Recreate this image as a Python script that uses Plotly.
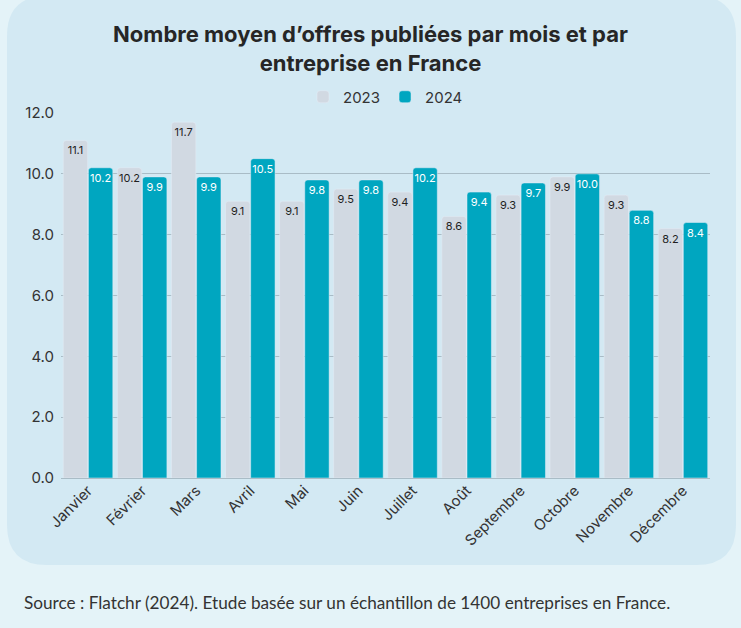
import plotly.graph_objects as go

# Data
mois = ["Janvier", "Février", "Mars", "Avril", "Mai", "Juin", "Juillet",
        "Août", "Septembre", "Octobre", "Novembre", "Décembre"]
offres_2023 = [11.1, 10.2, 11.7, 9.1, 9.1, 9.5, 9.4, 8.6, 9.3, 9.9, 9.3, 8.2]
offres_2024 = [10.2, 9.9, 9.9, 10.5, 9.8, 9.8, 10.2, 9.4, 9.7, 10.0, 8.8, 8.4]
y_ticks = [0, 2, 4, 6, 8, 10, 12]

W, H = 741, 628
ML, MR, MT, MB = 61, 31, 113, 150
PW, PH = W - ML - MR, H - MT - MB


def px_to_paper(x, y):
    return (x - ML) / PW, (H - MB - y) / PH


def rounded_panel(x0, y0, x1, y1, r):
    pts = [
        ("M", [(x0 + r, y0)]),
        ("L", [(x1 - r, y0)]),
        ("Q", [(x1, y0), (x1, y0 + r)]),
        ("L", [(x1, y1 - r)]),
        ("Q", [(x1, y1), (x1 - r, y1)]),
        ("L", [(x0 + r, y1)]),
        ("Q", [(x0, y1), (x0, y1 - r)]),
        ("L", [(x0, y0 + r)]),
        ("Q", [(x0, y0), (x0 + r, y0)]),
    ]
    parts = []
    for cmd, coords in pts:
        s = " ".join("%.5f,%.5f" % px_to_paper(cx, cy) for cx, cy in coords)
        parts.append(cmd + " " + s)
    return " ".join(parts) + " Z"


font_main = "Inter, Roboto, sans-serif"

fig = go.Figure()

fig.add_trace(go.Bar(
    x=mois, y=offres_2023, name="2023",
    marker=dict(color="#d1d9e2", cornerradius=3),
    text=["%.1f" % v for v in offres_2023],
    textposition="inside", insidetextanchor="end", textangle=0,
    textfont=dict(color="#1f1f1f", size=11, family=font_main),
))
fig.add_trace(go.Bar(
    x=mois, y=offres_2024, name="2024",
    marker=dict(color="#00a6c0", cornerradius=3),
    text=["%.1f" % v for v in offres_2024],
    textposition="inside", insidetextanchor="end", textangle=0,
    textfont=dict(color="#ffffff", size=11, family=font_main),
))

fig.update_layout(
    width=W, height=H,
    margin=dict(l=ML, r=MR, t=MT, b=MB),
    paper_bgcolor="#e4f3f8",
    plot_bgcolor="rgba(0,0,0,0)",
    barmode="group", bargap=0.07, bargroupgap=0.03,
    uniformtext=dict(minsize=11, mode="show"),
    title=dict(
        text="Nombre moyen d’offres publiées par mois et par<br>entreprise en France",
        x=0.5, xanchor="center", y=1 - 42 / H, yanchor="middle", yref="container",
        font=dict(family=font_main, size=22, color="#262626", weight="bold"),
    ),
    showlegend=True,
    legend=dict(
        orientation="h", x=0.5, xanchor="center",
        y=(H - MB - 97) / PH, yanchor="middle",
        font=dict(family=font_main, size=15, color="#333333"),
        bgcolor="rgba(0,0,0,0)",
        itemwidth=30,
    ),
    xaxis=dict(
        tickangle=-45, showgrid=False, showline=False,
        tickfont=dict(family=font_main, size=15, color="#333333"),
    ),
    yaxis=dict(
        range=[0, 12], tickvals=y_ticks, tickformat=".1f",
        showgrid=True, gridcolor="#a9bcc6", gridwidth=1,
        zeroline=True, zerolinecolor="#a9bcc6", zerolinewidth=1,
        tickfont=dict(family=font_main, size=15, color="#333333"),
        ticklabelstandoff=6,
    ),
    shapes=[dict(
        type="path", xref="paper", yref="paper", layer="below",
        path=rounded_panel(7, -4, 736, 565, 40),
        fillcolor="#d3e9f3", line=dict(width=0),
    )],
    annotations=[dict(
        text="Source : Flatchr (2024). Etude basée sur un échantillon de 1400 entreprises en France.",
        xref="paper", yref="paper",
        x=px_to_paper(22, 0)[0], xanchor="left",
        y=px_to_paper(0, 602)[1], yanchor="middle",
        showarrow=False,
        font=dict(family="Lato, sans-serif", size=17.2, color="#333333"),
    )],
)

# remove the default page margin so the figure sits at the window origin
fig.write_html("out.html", config={"displayModeBar": False},
               post_script="document.body.style.margin='0';")
